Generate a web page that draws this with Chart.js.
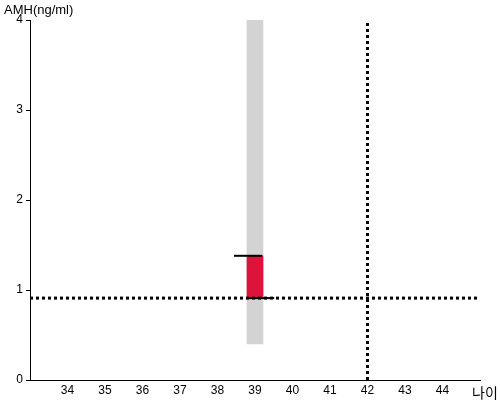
<!DOCTYPE html>
<html>
<head>
<meta charset="utf-8">
<script src="https://cdn.jsdelivr.net/npm/chart.js@4"></script>
<style>
  body { margin: 0; background: #fff; }
  #wrap { width: 500px; height: 400px; }
</style>
</head>
<body>
<div id="wrap"><canvas id="myChart" width="500" height="400"></canvas></div>
<script>
// dados do gráfico
const xRange = [33, 45];
const yRange = [0, 4];
const userAge = 39;
const normalAmh = [0.4, 4];
const userAmh = [0.91, 1.38];
const refAge = 42;
const refAmh = 0.91;
const topMarkX = [38.44, 39.19];
const bottomMarkX = [38.76, 39.51];
const yLabel = 'AMH(ng/ml)';
const xLabel = '나이';

// textos dos eixos
const labelsPlugin = {
    id: 'axisLabels',
    afterDraw(chart) {
        const c = chart.ctx;
        c.save();
        c.fillStyle = '#000';
        c.font = '13px "Liberation Sans", Arial, sans-serif';
        c.textBaseline = 'middle';
        c.textAlign = 'left';
        c.fillText(yLabel, 4, 10);
        c.font = '14px "Noto Sans CJK KR", sans-serif';
        c.fillText(xLabel, 472, 393);
        c.restore();
    }
};

var ctx = document.getElementById('myChart').getContext('2d');
var chart = new Chart(ctx, {
    type: 'bar',
    data: {
        datasets: [{
            type: 'bar',
            data: [{ x: userAge, y: normalAmh }],
            backgroundColor: '#d3d3d3',
            barThickness: 16,
            grouped: false,
            order: 5
        }, {
            type: 'bar',
            data: [{ x: userAge, y: userAmh }],
            backgroundColor: '#dc143c',
            barThickness: 16,
            grouped: false,
            order: 4
        }, {
            type: 'line',
            data: [{ x: xRange[0], y: refAmh }, { x: xRange[1], y: refAmh }],
            borderColor: '#000',
            borderWidth: 3,
            borderDash: [3, 3],
            pointRadius: 0,
            order: 3
        }, {
            type: 'line',
            data: [{ x: refAge, y: yRange[0] }, { x: refAge, y: yRange[1] }],
            borderColor: '#000',
            borderWidth: 3,
            borderDash: [3, 3],
            pointRadius: 0,
            order: 3
        }, {
            type: 'line',
            data: [{ x: topMarkX[0], y: userAmh[1] }, { x: topMarkX[1], y: userAmh[1] }],
            borderColor: '#000',
            borderWidth: 2,
            pointRadius: 0,
            order: 1
        }, {
            type: 'line',
            data: [{ x: bottomMarkX[0], y: userAmh[0] }, { x: bottomMarkX[1], y: userAmh[0] }],
            borderColor: '#000',
            borderWidth: 2,
            pointRadius: 0,
            order: 1
        }]
    },
    options: {
        responsive: false,
        animation: false,
        layout: { padding: { top: 20, right: 20, left: 0, bottom: 0 } },
        plugins: { legend: { display: false }, tooltip: { enabled: false } },
        scales: {
            x: {
                type: 'linear',
                min: xRange[0],
                max: xRange[1],
                offset: false,
                grid: { display: false, drawTicks: false },
                border: { display: true, color: '#000', width: 1 },
                ticks: {
                    stepSize: 1,
                    color: '#000',
                    padding: 3,
                    font: { size: 12, family: '"Liberation Sans", Arial, sans-serif' },
                    maxRotation: 0,
                    callback: function (v) {
                        return (v === xRange[0] || v === xRange[1]) ? '' : v;
                    }
                },
                afterFit: function (s) { s.height = 20; }
            },
            y: {
                min: yRange[0],
                max: yRange[1],
                grid: { drawOnChartArea: false, drawTicks: true, tickLength: 4, color: '#000' },
                border: { display: true, color: '#000', width: 1 },
                ticks: {
                    stepSize: 1,
                    color: '#000',
                    padding: 3,
                    font: { size: 12, family: '"Liberation Sans", Arial, sans-serif' }
                },
                afterFit: function (s) { s.width = 30; }
            }
        }
    },
    plugins: [labelsPlugin]
});
</script>
</body>
</html>
